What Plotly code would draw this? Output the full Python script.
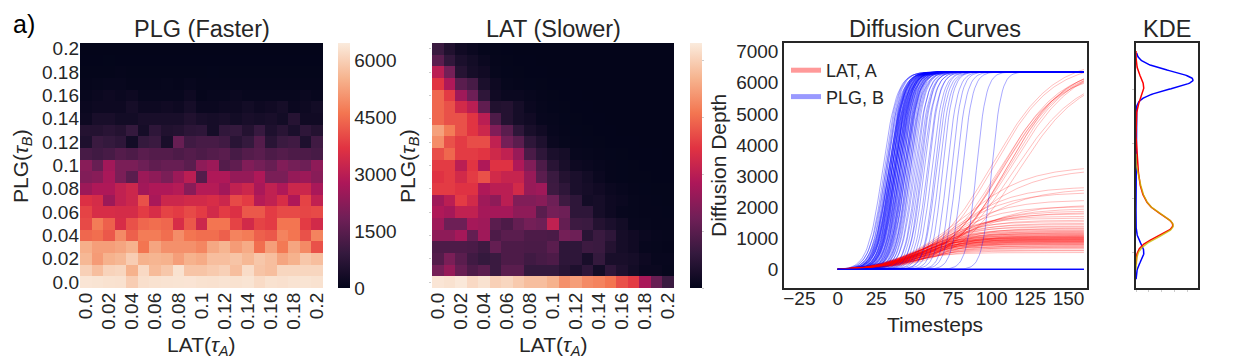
import numpy as np
import plotly.graph_objects as go

FONT = "Liberation Sans, Arial, sans-serif"
INK = "#262626"

# heatmap tick categories (tau values)
tau_labels = ["0.0", "0.01", "0.02", "0.03", "0.04", "0.05", "0.06", "0.07", "0.08", "0.09", "0.1",
              "0.11", "0.12", "0.13", "0.14", "0.15", "0.16", "0.17", "0.18", "0.19", "0.2"]
tau_ticks = ["0.0", "0.02", "0.04", "0.06", "0.08", "0.1", "0.12", "0.14", "0.16", "0.18", "0.2"]

# PLG (Faster) diffusion depth, rows = PLG tau_B from 0.0 (bottom) to 0.2, cols = LAT tau_A
plg_faster_z = [
    [6350, 6330, 6300, 6280, 5950, 6250, 6300, 6320, 6330, 6340, 6300, 6280, 6320, 6300, 6330, 6180, 6300, 6270, 6320, 6330, 6300],
    [6000, 5700, 6050, 6100, 5500, 6150, 5650, 5850, 6300, 5800, 5800, 5900, 6000, 5700, 6200, 5800, 5700, 6100, 6100, 6100, 6100],
    [5600, 5150, 5500, 5600, 5950, 5500, 5550, 5500, 5200, 5500, 5400, 5700, 5700, 5800, 5600, 5850, 5700, 5300, 5500, 5850, 5700],
    [5450, 5200, 5200, 5300, 5500, 4600, 5300, 5000, 5000, 5000, 4850, 5350, 5550, 5150, 5400, 4500, 5200, 4650, 5300, 4900, 4100],
    [4400, 4500, 4200, 4900, 4300, 4700, 4700, 4500, 4950, 4600, 4500, 4500, 4300, 4800, 4700, 4300, 4200, 4800, 4600, 4100, 4800],
    [4000, 4700, 4300, 3500, 4100, 4400, 4500, 4400, 3500, 4200, 3300, 4600, 4600, 3900, 3400, 3900, 3800, 4600, 4600, 3800, 3400],
    [3900, 3500, 3500, 3450, 3450, 3800, 3500, 3900, 3800, 4000, 3800, 3400, 3800, 3600, 4200, 4200, 3800, 4000, 4000, 3950, 4000],
    [3600, 3450, 2500, 3100, 3300, 4100, 2700, 3300, 3300, 3400, 3400, 3500, 3300, 4000, 3800, 2900, 3100, 3500, 2800, 3900, 3100],
    [2500, 2800, 2800, 3100, 3300, 2600, 2800, 2800, 2900, 2200, 2900, 2900, 2600, 3100, 3300, 2700, 3100, 2800, 3300, 3300, 2700],
    [2100, 2200, 2700, 2000, 1500, 2500, 2300, 2000, 2500, 3000, 1400, 2800, 2800, 2400, 2400, 2800, 2000, 2000, 2400, 2500, 2200],
    [2200, 1700, 2600, 2000, 2000, 1800, 1600, 1700, 1700, 1500, 2300, 2500, 1400, 1600, 2100, 1900, 1700, 2100, 1900, 1800, 2300],
    [1200, 1100, 1200, 1400, 1300, 1500, 1400, 1400, 1300, 1400, 1300, 1400, 1500, 1200, 1400, 1500, 1300, 1400, 1300, 1300, 1200],
    [500, 1000, 900, 800, 300, 900, 1000, 400, 1700, 1100, 1200, 1200, 1100, 700, 900, 1400, 700, 1000, 1100, 500, 1100],
    [600, 600, 700, 600, 900, 350, 800, 550, 600, 750, 800, 350, 850, 900, 600, 950, 500, 700, 450, 800, 600],
    [200, 400, 400, 300, 300, 400, 400, 400, 400, 550, 400, 350, 400, 300, 400, 350, 400, 300, 650, 250, 250],
    [150, 200, 200, 200, 350, 200, 200, 250, 200, 350, 150, 150, 200, 200, 300, 200, 250, 350, 150, 200, 300],
    [100, 150, 200, 150, 200, 100, 100, 100, 100, 200, 50, 100, 100, 150, 100, 100, 100, 100, 100, 150, 100],
    [50, 80, 100, 100, 60, 60, 60, 80, 50, 100, 60, 60, 60, 60, 60, 60, 60, 60, 60, 60, 60],
    [30, 30, 30, 60, 30, 30, 30, 30, 30, 30, 30, 40, 30, 30, 30, 30, 30, 30, 30, 30, 30],
    [20, 20, 25, 20, 20, 20, 20, 20, 20, 20, 20, 20, 20, 20, 20, 20, 20, 20, 20, 20, 20],
    [10, 10, 10, 10, 10, 10, 10, 10, 10, 10, 10, 10, 10, 10, 10, 10, 10, 10, 10, 10, 10],
]

# LAT (Slower) diffusion depth, same layout
lat_slower_z = [
    [6350, 6300, 6400, 6150, 6300, 6000, 6100, 5900, 5700, 5700, 5500, 5000, 5200, 4900, 4800, 4600, 4100, 3800, 2700, 1700, 1000],
    [1900, 2400, 1700, 1300, 1500, 1000, 1500, 1500, 900, 900, 900, 700, 500, 800, 300, 800, 500, 300, 150, 150, 80],
    [1400, 2000, 1500, 1100, 900, 1000, 1300, 1300, 1100, 1200, 1300, 800, 800, 400, 900, 400, 400, 350, 200, 100, 100],
    [1300, 1300, 1300, 1250, 1050, 1650, 1300, 1300, 1250, 1250, 1500, 800, 800, 1050, 1000, 600, 350, 250, 100, 80, 60],
    [2300, 2300, 2650, 1650, 2550, 1300, 1500, 1500, 1300, 1300, 1250, 1900, 1800, 700, 1000, 800, 350, 250, 150, 100, 80],
    [2550, 1800, 1800, 2650, 2550, 1500, 1300, 1650, 1900, 1800, 3100, 1650, 1050, 1000, 600, 450, 300, 100, 80, 60, 50],
    [2800, 2650, 3100, 3100, 2650, 2650, 2650, 2300, 2300, 1500, 1900, 1800, 800, 800, 350, 200, 100, 80, 60, 50, 40],
    [2550, 3000, 3800, 3400, 2550, 2300, 3000, 2100, 2100, 2200, 1800, 1050, 800, 300, 350, 200, 150, 80, 60, 40, 30],
    [3800, 3800, 3650, 3650, 2800, 3000, 3000, 3400, 2450, 2550, 1050, 800, 450, 350, 250, 150, 100, 60, 40, 30, 30],
    [3650, 3800, 3400, 3800, 4100, 3400, 3200, 3200, 2450, 1500, 1000, 600, 450, 300, 150, 50, 40, 30, 30, 20, 20],
    [3800, 3800, 3000, 3700, 2800, 3650, 3650, 2800, 2100, 1300, 700, 400, 200, 150, 100, 60, 40, 30, 20, 20, 20],
    [4050, 4400, 3800, 3800, 3700, 3350, 3100, 2450, 1250, 800, 450, 350, 100, 80, 50, 40, 30, 20, 20, 20, 10],
    [4950, 4100, 3800, 4050, 4050, 3100, 1900, 1500, 800, 500, 150, 80, 60, 40, 30, 20, 20, 20, 10, 10, 10],
    [5250, 4700, 4100, 3700, 3300, 2100, 1500, 800, 400, 250, 100, 60, 40, 30, 20, 20, 10, 10, 10, 10, 10],
    [4400, 4100, 4100, 3700, 3000, 1300, 600, 350, 250, 100, 80, 40, 30, 20, 20, 10, 10, 10, 10, 10, 10],
    [4400, 4100, 3400, 3000, 1600, 550, 600, 350, 150, 80, 40, 30, 20, 20, 10, 10, 10, 10, 10, 10, 10],
    [4400, 3800, 2550, 1800, 800, 250, 150, 150, 100, 50, 30, 20, 20, 10, 10, 10, 10, 10, 10, 10, 10],
    [3700, 2800, 1500, 1200, 450, 200, 80, 50, 40, 30, 20, 20, 10, 10, 10, 10, 10, 10, 10, 10, 10],
    [3000, 1900, 650, 350, 250, 80, 40, 30, 20, 20, 10, 10, 10, 10, 10, 10, 10, 10, 10, 10, 10],
    [1500, 850, 450, 300, 150, 50, 30, 20, 20, 10, 10, 10, 10, 10, 10, 10, 10, 10, 10, 10, 10],
    [1000, 550, 250, 150, 60, 30, 20, 10, 10, 10, 10, 10, 10, 10, 10, 10, 10, 10, 10, 10, 10],
]

# diffusion curves: each run read as plateau / half-rise timestep / steepness
timesteps = np.arange(0, 161)

plg_plateau = 6350
plg_mid = [29, 30, 31, 31, 32, 32, 33, 33, 33, 33, 34, 34, 34, 34, 35, 35, 35, 35, 35, 36,
           36, 36, 36, 37, 37, 37, 37, 37, 38, 38, 38, 38, 39, 39, 39, 39, 40, 40, 40, 40,
           41, 41, 41, 42, 42, 42, 43, 43, 43, 44, 44, 44, 45, 45, 46, 46, 47, 47, 48, 49,
           50, 51, 52, 53, 54, 55, 56, 58, 59, 61, 63, 64, 66, 68, 71, 74, 77, 81, 90, 100]
plg_rate = [0.21, 0.22, 0.20, 0.23, 0.21, 0.24, 0.22, 0.20, 0.23, 0.21, 0.24, 0.22, 0.21, 0.23, 0.20, 0.25, 0.22, 0.24, 0.21, 0.23,
            0.22, 0.25, 0.20, 0.23, 0.21, 0.24, 0.22, 0.25, 0.23, 0.21, 0.24, 0.22, 0.25, 0.23, 0.21, 0.24, 0.26, 0.22, 0.25, 0.23,
            0.24, 0.26, 0.22, 0.25, 0.23, 0.26, 0.24, 0.22, 0.25, 0.23, 0.26, 0.24, 0.27, 0.25, 0.23, 0.26, 0.24, 0.27, 0.25, 0.26,
            0.24, 0.27, 0.25, 0.26, 0.28, 0.25, 0.27, 0.26, 0.28, 0.27, 0.29, 0.27, 0.28, 0.30, 0.29, 0.31, 0.29, 0.30, 0.31, 0.32]
plg_stalled = 11  # runs that never took off

lat_top = [6750, 6480, 6610, 6330, 6560, 6500, 6680, 6400, 6590, 6300, 6620, 6280,
           3320, 3240, 2660, 2610, 2480, 2230, 2080, 2020, 1960, 1880, 1830, 1790,
           540, 596, 612, 661, 688, 709, 724, 751, 760, 789, 797, 815, 822, 841, 853, 862, 877, 884, 898, 902,
           915, 918, 936, 940, 951, 955, 968, 973, 986, 990, 1004, 1009, 1021, 1024, 1041, 1044, 1061, 1063, 1082, 1090,
           1112, 1118, 1140, 1149, 1171, 1183, 1207, 1221, 1249, 1268, 1302, 1323, 1361, 1390, 1440, 1478, 1534, 1580, 1645, 1705]
lat_mid = [100, 106, 108, 104, 110, 107, 113, 109, 111, 114, 101, 117,
           80, 84, 74, 82, 72, 70, 77, 68, 73, 69, 71, 66,
           44, 50, 47, 53, 49, 56, 45, 51, 58, 48, 54, 46, 52, 59, 50, 55, 47, 53, 61, 49,
           56, 51, 45, 54, 58, 52, 48, 55, 60, 50, 53, 46, 57, 51, 59, 54, 49, 56, 52, 62,
           53, 58, 50, 55, 60, 56, 52, 61, 57, 54, 59, 63, 56, 60, 58, 62, 59, 64, 61, 63]
lat_rate = [0.050, 0.052, 0.049, 0.051, 0.053, 0.050, 0.048, 0.054, 0.050, 0.047, 0.052, 0.049,
            0.046, 0.044, 0.050, 0.047, 0.050, 0.052, 0.048, 0.055, 0.050, 0.053, 0.052, 0.056,
            0.074, 0.070, 0.078, 0.072, 0.076, 0.069, 0.080, 0.073, 0.068, 0.077, 0.071, 0.079, 0.074, 0.067, 0.075, 0.070, 0.078, 0.072, 0.066, 0.076,
            0.069, 0.073, 0.081, 0.071, 0.068, 0.074, 0.077, 0.070, 0.067, 0.075, 0.072, 0.079, 0.069, 0.073, 0.067, 0.071, 0.076, 0.069, 0.072, 0.065,
            0.071, 0.068, 0.074, 0.070, 0.066, 0.069, 0.072, 0.065, 0.068, 0.070, 0.067, 0.064, 0.068, 0.066, 0.067, 0.064, 0.066, 0.063, 0.065, 0.064]

# third density shown in the KDE panel (final depths of LAT runs that stayed low)
other_final = [352, 415, 468, 538, 596, 612, 661, 688, 709, 724, 751, 760, 789, 797, 815, 822, 841, 853, 862, 877,
               884, 898, 902, 915, 918, 936, 940, 951, 955, 968, 973, 986, 990, 1004, 1009, 1021, 1024, 1041, 1044, 1061,
               1063, 1082, 1090, 1112, 1118, 1140, 1149, 1171, 1183, 1207, 1221, 1249, 1268, 1302, 1323, 1361, 1390, 1440, 1478, 1534,
               1580, 1645, 1705, 1750, 1800, 1850, 1920, 1990, 2060, 2190, 2350, 2480, 2560, 2640]

rocket = [[0.0, "#03051a"], [1 / 7, "#35193e"], [2 / 7, "#701f57"], [3 / 7, "#ad1759"],
          [4 / 7, "#e13342"], [5 / 7, "#f37651"], [6 / 7, "#f6b48f"], [1.0, "#faebdd"]]


def rise(top, mid, rate):
    s = 1 / (1 + np.exp(-rate * (timesteps - mid)))
    s0 = 1 / (1 + np.exp(rate * mid))
    return top * (s - s0) / (1 - s0)


W, H = 1240, 360
OFF = 8  # page body margin


def px(x):
    return (x - OFF) / W


def py(y):
    return 1 - (y - OFF) / H


fig = go.Figure()

fig.add_trace(go.Heatmap(
    z=plg_faster_z, x=tau_labels, y=tau_labels, colorscale=rocket, zmin=0, zmax=6450,
    xaxis="x", yaxis="y", hoverinfo="skip",
    colorbar=dict(x=px(338), xanchor="left", y=py(288), yanchor="bottom", len=245 / H, lenmode="fraction",
                  thickness=12, outlinewidth=0, tickvals=[0, 1500, 3000, 4500, 6000], ticks="",
                  tickfont=dict(size=19, color=INK, family=FONT), xpad=0, ypad=0)))
fig.add_trace(go.Heatmap(
    z=lat_slower_z, x=tau_labels, y=tau_labels, colorscale=rocket, zmin=0, zmax=6450,
    xaxis="x2", yaxis="y2", hoverinfo="skip",
    colorbar=dict(x=px(690), xanchor="left", y=py(288), yanchor="bottom", len=245 / H, lenmode="fraction",
                  thickness=12, outlinewidth=0, tickvals=[0, 1500, 3000, 4500, 6000], ticks="outside",
                  ticklen=2, tickcolor="#cccccc", showticklabels=False, xpad=0, ypad=0)))

# legend entries
fig.add_trace(go.Scatter(x=[None], y=[None], mode="lines", name="LAT, A",
                         line=dict(color="rgba(255,0,0,0.4)", width=5), xaxis="x3", yaxis="y3"))
fig.add_trace(go.Scatter(x=[None], y=[None], mode="lines", name="PLG, B",
                         line=dict(color="rgba(0,0,255,0.4)", width=5), xaxis="x3", yaxis="y3"))

lat_curves = [rise(a, m, r) for a, m, r in zip(lat_top, lat_mid, lat_rate)]
plg_curves = [rise(plg_plateau, m, r) for m, r in zip(plg_mid, plg_rate)]
plg_curves += [rise(0, 50, 0.2) for _ in range(plg_stalled)]

for i in range(max(len(lat_curves), len(plg_curves))):
    if i < len(lat_curves):
        fig.add_trace(go.Scatter(x=timesteps, y=lat_curves[i], mode="lines", showlegend=False, hoverinfo="skip",
                                 line=dict(color="rgba(255,0,0,0.25)", width=1), xaxis="x3", yaxis="y3"))
    if i < len(plg_curves):
        fig.add_trace(go.Scatter(x=timesteps, y=plg_curves[i], mode="lines", showlegend=False, hoverinfo="skip",
                                 line=dict(color="rgba(0,0,255,0.38)", width=0.9), xaxis="x3", yaxis="y3"))

# KDE of final depths (per-run density, cut 3 bandwidths past the data)
bw = 330


def kde(values, n):
    v = np.asarray(values, dtype=float)
    grid = np.linspace(v.min() - 3 * bw, v.max() + 3 * bw, 400)
    dens = np.exp(-0.5 * ((grid[:, None] - v[None, :]) / bw) ** 2).sum(axis=1) / n
    return grid, dens


plg_final = [c[-1] for c in plg_curves]
lat_final = [c[-1] for c in lat_curves]
g_plg, d_plg = kde(plg_final, len(plg_final))
g_lat, d_lat = kde(lat_final, len(lat_final))
g_oth, d_oth = kde(other_final, len(lat_final))
fig.add_trace(go.Scatter(x=d_plg, y=g_plg, mode="lines", showlegend=False, hoverinfo="skip",
                         line=dict(color="#0000ff", width=1.5), xaxis="x4", yaxis="y4"))
fig.add_trace(go.Scatter(x=d_lat, y=g_lat, mode="lines", showlegend=False, hoverinfo="skip",
                         line=dict(color="#ff0000", width=1.5), xaxis="x4", yaxis="y4"))
fig.add_trace(go.Scatter(x=d_oth, y=g_oth, mode="lines", showlegend=False, hoverinfo="skip",
                         line=dict(color="rgba(200,185,0,0.8)", width=1.5), xaxis="x4", yaxis="y4"))
kde_max = d_plg.max() * 62 / 57

tick_font = dict(size=19, color=INK, family=FONT)
hm_x = dict(type="category", tickvals=tau_ticks, ticktext=tau_ticks, tickangle=-90, tickfont=tick_font,
            showgrid=False, zeroline=False, ticks="", automargin=False)
hm_y = dict(type="category", tickvals=tau_ticks, ticktext=tau_ticks, tickfont=tick_font,
            showgrid=False, zeroline=False, ticks="", automargin=False)
box = dict(showline=True, mirror=True, linecolor=INK, linewidth=1.5, showgrid=False, zeroline=False, automargin=False)

fig.update_layout(
    width=W, height=H, autosize=False, margin=dict(l=0, r=0, t=0, b=0),
    paper_bgcolor="white", plot_bgcolor="white",
    font=dict(family=FONT, color=INK, size=19),
    xaxis=dict(domain=[px(80), px(323)], anchor="y", **hm_x),
    yaxis=dict(domain=[py(288), py(43)], anchor="x", **hm_y),
    xaxis2=dict(domain=[px(432), px(674)], anchor="y2", **hm_x),
    yaxis2=dict(domain=[py(288), py(43)], anchor="x2", type="category", tickvals=tau_ticks, showticklabels=False,
                ticks="outside", ticklen=2, tickcolor="#cccccc", showgrid=False, zeroline=False, automargin=False),
    xaxis3=dict(domain=[px(784), px(1087)], anchor="y3", range=[-35, 162],
                tickvals=[-25, 0, 25, 50, 75, 100, 125, 150], tickfont=tick_font, ticks="",
                ticklabelstandoff=-8, **box),
    yaxis3=dict(domain=[py(288), py(43)], anchor="x3", range=[-600, 7280],
                tickvals=[0, 1000, 2000, 3000, 4000, 5000, 6000, 7000], tickfont=tick_font, ticks="", **box),
    xaxis4=dict(domain=[px(1136), px(1198)], anchor="y4", range=[0, kde_max], nticks=8,
                showticklabels=False, ticks="outside", ticklen=2, tickcolor="#cccccc", **box),
    yaxis4=dict(domain=[py(288), py(43)], anchor="x4", range=[-1315, 7710], tickvals=[0, 2000, 4000, 6000],
                showticklabels=False, ticks="outside", ticklen=2, tickcolor="#cccccc", **box),
    legend=dict(x=px(786), y=py(52), xanchor="left", yanchor="top", bgcolor="rgba(0,0,0,0)",
                font=dict(size=18, color=INK, family=FONT)),
)

title_font = dict(size=23.5, color=INK, family=FONT)
label_font = dict(size=21, color=INK, family=FONT)
notes = [
    ("a)", 24, 24, 0, dict(size=25, color="black", family=FONT)),
    ("PLG (Faster)", 201.5, 29, 0, title_font),
    ("LAT (Slower)", 553, 29, 0, title_font),
    ("Diffusion Curves", 935.5, 29, 0, title_font),
    ("KDE", 1167, 29, 0, title_font),
    ("LAT(<i>τ<sub>A</sub></i>)", 201.5, 346, 0, label_font),
    ("LAT(<i>τ<sub>A</sub></i>)", 553, 346, 0, label_font),
    ("Timesteps", 935.5, 324, 0, label_font),
    ("PLG(<i>τ<sub>B</sub></i>)", 22, 166, -90, label_font),
    ("PLG(<i>τ<sub>B</sub></i>)", 409, 166, -90, label_font),
    ("Diffusion Depth", 718, 166, -90, label_font),
]
for text, x, y, ang, f in notes:
    fig.add_annotation(text=text, x=px(x), y=py(y), xref="paper", yref="paper", showarrow=False,
                       xanchor="center", yanchor="middle", textangle=ang, font=f)

fig.write_html("out.html")
